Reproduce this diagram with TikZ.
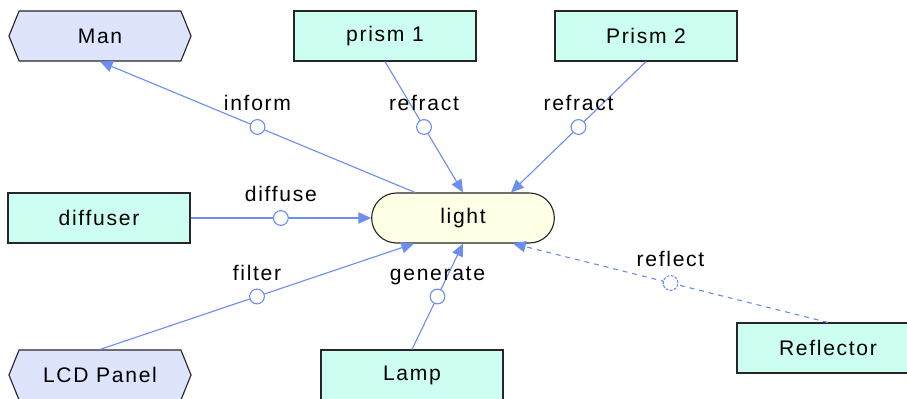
\documentclass[tikz,border=0pt]{standalone}
\usepackage{fontspec}
\setmainfont{Liberation Sans}[LetterSpace=8]
\usetikzlibrary{positioning, arrows.meta, shapes.misc, shapes.symbols}
\definecolor{linkblue}{RGB}{108,142,240}
\definecolor{actorfill}{RGB}{221,228,252}
\definecolor{partfill}{RGB}{204,255,242}
\definecolor{funcfill}{RGB}{255,255,230}

\begin{document}
\begin{tikzpicture}[
    x=0.025cm, y=-0.025cm,
    every node/.style={font=\fontsize{15}{17}\selectfont},
    part/.style={draw=black!85, line width=0.8pt, fill=partfill,
                 rectangle, minimum width=4.55cm, minimum height=1.25cm},
    actor/.style={draw=black!85, line width=0.8pt, fill=actorfill,
                  signal, signal to=west and east, signal pointer angle=136,
                  minimum width=4.55cm, minimum height=1.25cm},
    func/.style={draw=black!85, line width=0.8pt, fill=funcfill,
                 rounded rectangle, minimum width=4.8cm, minimum height=1.25cm},
    link/.style={draw=linkblue, line width=0.8pt, -{Triangle[length=9pt, width=8pt]}},
    knot/.style={circle, draw=linkblue, fill=white, line width=0.8pt,
                 inner sep=0pt, minimum size=10.5pt},
    tag/.style={anchor=base, yshift=11.5pt},
]
\useasboundingbox (0,0) rectangle (907,399);

% Central function
\node[func] (light) at (463,218) {light};

% Surrounding parts and actors
\node[actor] (man) at (100,36) {Man};
\node[part] (prism1) at (385,36) {prism 1};
\node[part] (prism2) at (646,36) {Prism 2};
\node[part] (diffuser) at (99,218) {diffuser};
\node[actor] (lcd) at (100,375) {LCD Panel};
\node[part] (lamp) at (412,375) {Lamp};
\node[part] (reflector) at (828,348) {Reflector};

% Attachment points along the light node
\coordinate (light-nw) at ([xshift=-1.2cm]light.north);
\coordinate (light-ne) at ([xshift=1.2cm]light.north);
\coordinate (light-sw) at ([xshift=-1.225cm]light.south);
\coordinate (light-se) at ([xshift=1.25cm]light.south);

% Solid links
\foreach \a/\b/\t [count=\i] in {light-nw/man.south/inform,
        prism1.south/light.north/refract, prism2.south/light-ne/refract,
        diffuser.east/light.west/diffuse, lcd.north/light-sw/filter,
        lamp.north/light.south/generate} {
    \draw[link] (\a) -- node[knot, pos=.5] (knot\i) {}
        node[tag, pos=.5] (tag\i) {\t} (\b);
}

% Dashed link
\draw[link, dash pattern=on 3.5pt off 3.5pt] (reflector.north)
    -- node[knot, pos=.5, dash pattern=on 2pt off 1pt] (knot7) {}
       node[tag, pos=.5] (tag7) {reflect} (light-se);

\end{tikzpicture}
\end{document}
